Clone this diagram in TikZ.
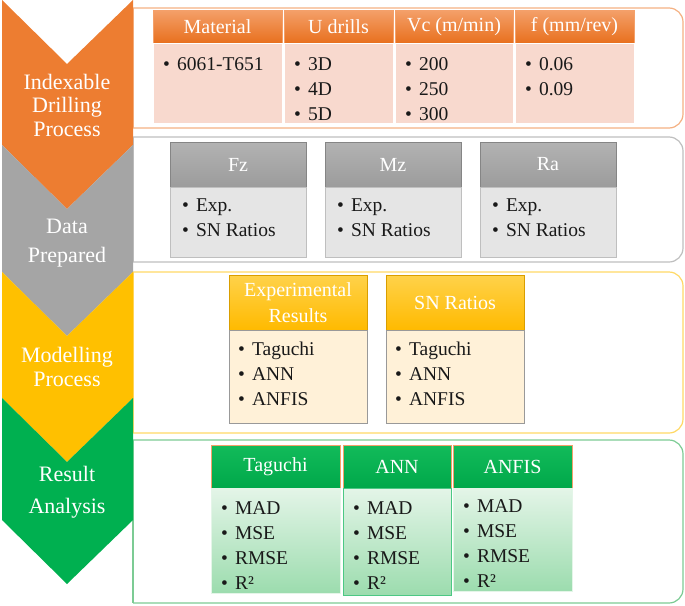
\documentclass[tikz,border=0pt]{standalone}
\usepackage{fontspec}
\setmainfont{Liberation Serif}
\usetikzlibrary{positioning, calc}

\definecolor{stageorange}{HTML}{ED7D31}
\definecolor{stagegray}{HTML}{A5A5A5}
\definecolor{stageyellow}{HTML}{FFC000}
\definecolor{stagegreen}{HTML}{00B050}
\definecolor{lineorange}{HTML}{F4B183}
\definecolor{linegray}{HTML}{BFBFBF}
\definecolor{lineyellow}{HTML}{FFD966}
\definecolor{linegreen}{HTML}{7CCB94}
\definecolor{orangetop}{HTML}{F4A06A}
\definecolor{orangebot}{HTML}{E8701E}
\definecolor{peach}{HTML}{F8D9CE}
\definecolor{graytop}{HTML}{B2B2B2}
\definecolor{graybot}{HTML}{9C9C9C}
\definecolor{lightgray}{HTML}{E5E5E5}
\definecolor{goldtop}{HTML}{FFD24A}
\definecolor{goldbot}{HTML}{FFBA00}
\definecolor{cream}{HTML}{FFF1D8}
\definecolor{greentop}{HTML}{12BB5A}
\definecolor{greenbot}{HTML}{00A84A}
\definecolor{mintop}{HTML}{E4F5E8}
\definecolor{minbot}{HTML}{9CDCAE}

\tikzset{
  stagetext/.style={text=white, font=\fontsize{22}{23.5}\selectfont, align=center},
  panelline/.style={draw=#1, line width=1.2pt, rounded corners=14pt},
  headbox/.style={anchor=north west, inner sep=0pt, outer sep=0pt, text=white,
    font=\fontsize{20}{26}\selectfont, align=center, line width=0.6pt},
  bodybox/.style={inner sep=0pt, outer sep=0pt, line width=0.6pt},
  orangehead/.style={headbox, top color=orangetop, bottom color=orangebot, draw=orangetop},
  orangebody/.style={bodybox, fill=peach, draw=white},
  grayhead/.style={headbox, top color=graytop, bottom color=graybot, draw=graybot!85!black},
  graybody/.style={bodybox, fill=lightgray, draw=linegray},
  goldhead/.style={headbox, top color=goldtop, bottom color=goldbot, draw=goldbot!85!black},
  goldbody/.style={bodybox, fill=cream, draw=black!40},
  greenhead/.style={headbox, top color=greentop, bottom color=greenbot, draw=orangetop},
  greenbody/.style={bodybox, top color=mintop, bottom color=minbot, draw=mintop},
  itemlist/.style={anchor=north west, inner sep=0pt, align=left, text=black!90,
    font=\fontsize{19.5}{25}\selectfont}
}

\newcommand{\itm}{\textbullet\hspace{7pt}}

\begin{document}
\begin{tikzpicture}[x=1pt, y=-1pt]
\useasboundingbox (0,0) rectangle (685,605);

% panels
\foreach \col/\top/\bot in {lineorange/8/128, linegray/137/262, lineyellow/272/433, linegreen/440/603} {
  \draw[panelline=\col] (133,\top) -- (683,\top) -- (683,\bot) -- (133,\bot);
  \draw[\col, line width=1.2pt] (133,\top) -- (133,\bot);
}

% chevrons
\foreach \col/\top/\bot in {stageorange/0/145, stagegray/145/272, stageyellow/272/398, stagegreen/398/520}
  \fill[\col] (2,\top) -- (67,\top+64) -- (133,\top) -- (133,\bot) -- (67,\bot+64) -- (2,\bot) -- cycle;

\node[stagetext] (drill) at (67,105) {Indexable\\Drilling\\Process};
\node[stagetext] (data) at (67,243) {Data\\[5pt]Prepared};
\node[stagetext] (model) at (67,367) {Modelling\\Process};
\node[stagetext] (result) at (67,492) {Result\\[9pt]Analysis};

% indexable drilling
\node[orangehead, minimum width=129, minimum height=33] (matHead) at (153,10) {Material};
\node[orangebody, minimum width=129, minimum height=80, below=0pt of matHead] (matBody) {};
\node[itemlist] (matList) at ([xshift=10pt,yshift=-14pt]matBody.north west) {\itm 6061-T651};

\node[orangehead, minimum width=109, minimum height=33] (drlHead) at (284,10) {U drills};
\node[orangebody, minimum width=109, minimum height=80, below=0pt of drlHead] (drlBody) {};
\node[itemlist] (drlList) at ([xshift=10pt,yshift=-14pt]drlBody.north west) {\itm 3D\\\itm 4D\\\itm 5D};

\node[orangehead, minimum width=118, minimum height=33] (vcHead) at (395,10) {Vc (m/min)};
\node[orangebody, minimum width=118, minimum height=80, below=0pt of vcHead] (vcBody) {};
\node[itemlist] (vcList) at ([xshift=10pt,yshift=-14pt]vcBody.north west) {\itm 200\\\itm 250\\\itm 300};

\node[orangehead, minimum width=119, minimum height=33] (fHead) at (515,10) {f (mm/rev)};
\node[orangebody, minimum width=119, minimum height=80, below=0pt of fHead] (fBody) {};
\node[itemlist] (fList) at ([xshift=10pt,yshift=-14pt]fBody.north west) {\itm 0.06\\\itm 0.09};

% data prepared
\node[grayhead, minimum width=136, minimum height=45] (fzHead) at (170,142) {Fz};
\node[graybody, minimum width=136, minimum height=70, below=0pt of fzHead] (fzBody) {};
\node[itemlist] (fzList) at ([xshift=12pt,yshift=-12pt]fzBody.north west) {\itm Exp.\\\itm SN Ratios};

\node[grayhead, minimum width=136, minimum height=45] (mzHead) at (325,142) {Mz};
\node[graybody, minimum width=136, minimum height=70, below=0pt of mzHead] (mzBody) {};
\node[itemlist] (mzList) at ([xshift=12pt,yshift=-12pt]mzBody.north west) {\itm Exp.\\\itm SN Ratios};

\node[grayhead, minimum width=136, minimum height=45] (raHead) at (480,142) {Ra};
\node[graybody, minimum width=136, minimum height=70, below=0pt of raHead] (raBody) {};
\node[itemlist] (raList) at ([xshift=12pt,yshift=-12pt]raBody.north west) {\itm Exp.\\\itm SN Ratios};

% modelling process
\node[goldhead, minimum width=138, minimum height=55] (expHead) at (229,275) {Experimental\\Results};
\node[goldbody, minimum width=138, minimum height=93, below=0pt of expHead] (expBody) {};
\node[itemlist] (expList) at ([xshift=9pt,yshift=-12pt]expBody.north west) {\itm Taguchi\\\itm ANN\\\itm ANFIS};

\node[goldhead, minimum width=138, minimum height=55] (snHead) at (386,275) {SN Ratios};
\node[goldbody, minimum width=138, minimum height=93, below=0pt of snHead] (snBody) {};
\node[itemlist] (snList) at ([xshift=9pt,yshift=-12pt]snBody.north west) {\itm Taguchi\\\itm ANN\\\itm ANFIS};

% result analysis
\node[greenhead, minimum width=129, minimum height=43] (tagHead) at (211,445) {Taguchi};
\node[greenbody, minimum width=129, minimum height=105, below=0pt of tagHead] (tagBody) {};
\node[itemlist] (tagList) at ([xshift=10pt,yshift=-13pt]tagBody.north west) {\itm MAD\\\itm MSE\\\itm RMSE\\\itm R²};

\node[greenhead, minimum width=108, minimum height=43] (annHead) at (343,445) {ANN};
\node[greenbody, draw=stagegreen!70, minimum width=108, minimum height=107, below=0pt of annHead] (annBody) {};
\node[itemlist] (annList) at ([xshift=10pt,yshift=-13pt]annBody.north west) {\itm MAD\\\itm MSE\\\itm RMSE\\\itm R²};

\node[greenhead, minimum width=119, minimum height=43] (anfHead) at (453,445) {ANFIS};
\node[greenbody, minimum width=119, minimum height=103, below=0pt of anfHead] (anfBody) {};
\node[itemlist] (anfList) at ([xshift=10pt,yshift=-11pt]anfBody.north west) {\itm MAD\\\itm MSE\\\itm RMSE\\\itm R²};
\end{tikzpicture}
\end{document}
